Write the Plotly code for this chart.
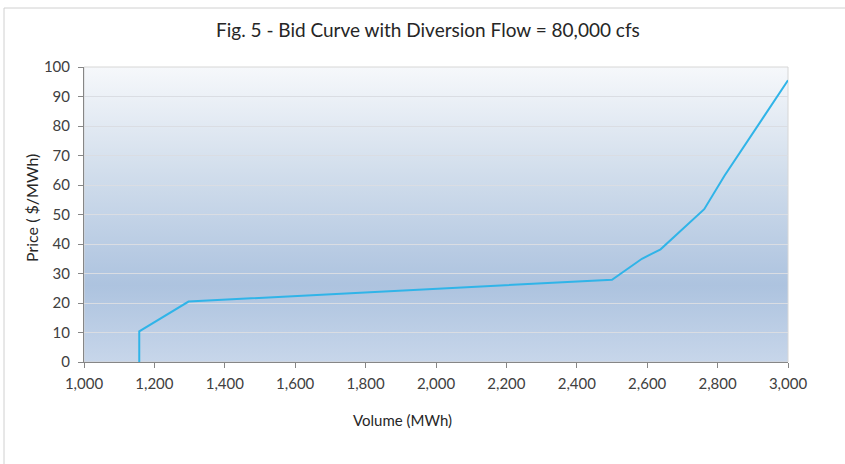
import base64
import plotly.graph_objects as go

# Bid curve: volume (MWh) vs. price ($/MWh)
volume_mwh = [1157, 1157, 1297, 2500, 2585, 2638, 2762, 2820, 3000]
price_usd = [0, 10.4, 20.5, 27.9, 35.0, 38.2, 51.8, 63.2, 95.5]

x_ticks = [1000, 1200, 1400, 1600, 1800, 2000, 2200, 2400, 2600, 2800, 3000]
y_ticks = [0, 10, 20, 30, 40, 50, 60, 70, 80, 90, 100]

title_text = "Fig. 5 - Bid Curve with Diversion Flow = 80,000 cfs"
x_title = "Volume (MWh)"
y_title = "Price ( $/MWh)"

W, H = 845, 464
L, R, T, B = 84, 57, 67, 102
plot_w = W - L - R
plot_h = H - T - B

FONT = "Lato"


def px_to_paper_x(px):
    return (px - L) / plot_w


def px_to_paper_y(py):
    return (H - B - py) / plot_h


# vertical gradient for the plot area background
svg = (
    '<svg xmlns="http://www.w3.org/2000/svg" width="10" height="100" '
    'viewBox="0 0 10 100" preserveAspectRatio="none">'
    '<defs><linearGradient id="g" x1="0" y1="0" x2="0" y2="1">'
    '<stop offset="0" stop-color="#f6f8fb"/>'
    '<stop offset="0.35" stop-color="#d2deec"/>'
    '<stop offset="0.74" stop-color="#adc3df"/>'
    '<stop offset="1" stop-color="#c7d6ea"/>'
    '</linearGradient></defs>'
    '<rect width="10" height="100" fill="url(#g)"/></svg>'
)
bg_src = "data:image/svg+xml;base64," + base64.b64encode(svg.encode()).decode()

fig = go.Figure()
fig.add_trace(go.Scatter(
    x=volume_mwh, y=price_usd, mode="lines",
    line=dict(color="#30b4e8", width=2),
    hoverinfo="x+y", showlegend=False,
))

fig.update_layout(
    width=W, height=H,
    margin=dict(l=L, r=R, t=T, b=B),
    paper_bgcolor="white",
    plot_bgcolor="rgba(0,0,0,0)",
    font=dict(family=FONT, color="#404040"),
    images=[dict(
        source=bg_src, xref="paper", yref="paper",
        x=0, y=1, sizex=1, sizey=1, xanchor="left", yanchor="top",
        sizing="stretch", layer="below",
    )],
    shapes=[
        # chart frame
        dict(type="rect", xref="paper", yref="paper",
             x0=px_to_paper_x(4), x1=px_to_paper_x(900),
             y0=px_to_paper_y(500), y1=px_to_paper_y(8),
             line=dict(color="#d0d0d0", width=1), fillcolor="rgba(0,0,0,0)",
             layer="below"),
        # plot area border
        dict(type="rect", xref="paper", yref="paper", x0=0, x1=1, y0=0, y1=1,
             line=dict(color="#d6d6d6", width=1), fillcolor="rgba(0,0,0,0)",
             layer="below"),
    ],
    annotations=[
        dict(text=title_text, xref="paper", yref="paper",
             x=px_to_paper_x(428), y=px_to_paper_y(30),
             xanchor="center", yanchor="middle", showarrow=False,
             font=dict(family=FONT, size=19, color="#262626")),
        dict(text=x_title, xref="paper", yref="paper",
             x=px_to_paper_x(402), y=px_to_paper_y(420),
             xanchor="center", yanchor="middle", showarrow=False,
             font=dict(family=FONT, size=15, color="#262626")),
        dict(text=y_title, xref="paper", yref="paper",
             x=px_to_paper_x(31), y=px_to_paper_y(208),
             xanchor="center", yanchor="middle", showarrow=False, textangle=-90,
             font=dict(family=FONT, size=16, color="#262626")),
    ],
)

fig.update_xaxes(
    range=[1000, 3000], tickvals=x_ticks,
    ticktext=[f"{v:,}" for v in x_ticks],
    showgrid=False, zeroline=False,
    showline=True, linecolor="#868686", linewidth=1,
    ticks="outside", ticklen=5, tickcolor="#868686",
    ticklabelstandoff=3,
    tickfont=dict(family=FONT, size=15, color="#404040"),
)
fig.update_yaxes(
    range=[0, 100], tickvals=y_ticks,
    showgrid=True, gridcolor="#dadde3", gridwidth=1, zeroline=False,
    showline=True, linecolor="#868686", linewidth=1,
    ticks="outside", ticklen=5, tickcolor="#868686",
    ticklabelstandoff=5,
    tickfont=dict(family=FONT, size=15, color="#404040"),
)

fig.write_html("out.html")
